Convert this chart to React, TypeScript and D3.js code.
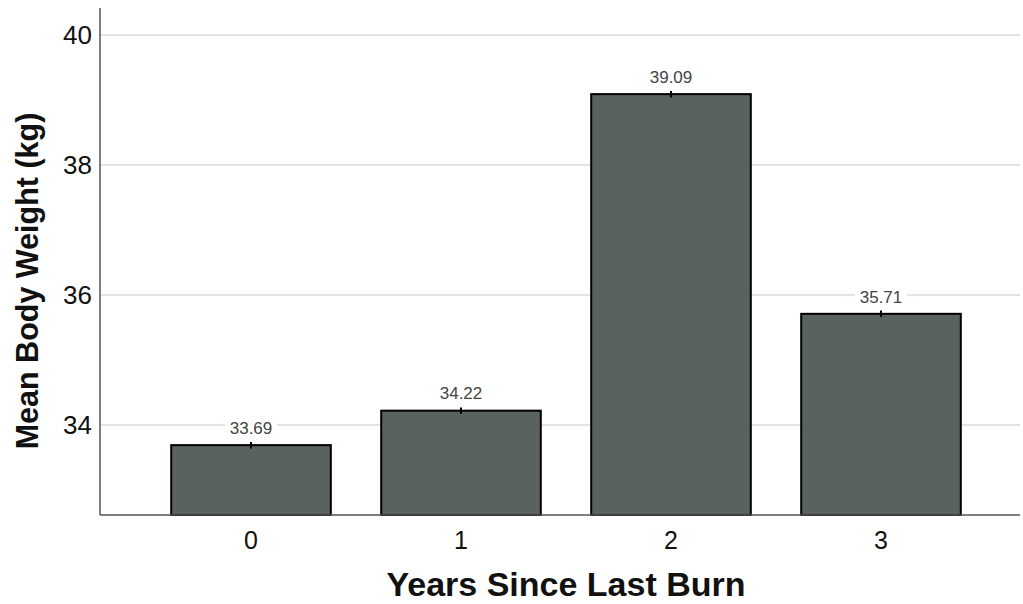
import React from "react";
import * as d3 from "d3";

const categories = ["0", "1", "2", "3"];
const means = [33.69, 34.22, 39.09, 35.71];
const errors = [0.05, 0.05, 0.05, 0.05];
const yTicks = [34, 36, 38, 40];

const W = 1023;
const H = 604;

export default function App() {
  const y = d3.scaleLinear().domain([32.615, 40.415]).range([515, 8]);
  const x = d3
    .scaleBand<string>()
    .domain(categories)
    .range([146, 986])
    .paddingInner(0.24)
    .paddingOuter(0.12);
  const font = "'Liberation Sans', Arial, sans-serif";
  return (
    <svg
      width={W}
      height={H}
      style={{ position: "absolute", left: 0, top: 0, background: "#fff" }}
      fontFamily={font}
    >
      {yTicks.map((t) => (
        <g key={t}>
          <line x1={100} x2={1020} y1={y(t)} y2={y(t)} stroke="#c8c8c8" strokeWidth={1.2} />
          <text x={92} y={y(t)} dy="0.35em" textAnchor="end" fontSize={26} fill="#111">
            {t}
          </text>
        </g>
      ))}
      {categories.map((c, i) => {
        const x0 = x(c)!;
        const bw = x.bandwidth();
        const cx = x0 + bw / 2;
        const top = y(means[i]);
        const label = means[i].toFixed(2);
        const lw = label.length * 9.2 + 6;
        const ly = y(means[i] + errors[i]) - 14;
        return (
          <g key={c}>
            <rect
              x={x0}
              y={top}
              width={bw}
              height={515 - top}
              fill="#59625c"
              stroke="#000"
              strokeWidth={2}
            />
            <line
              x1={cx}
              x2={cx}
              y1={y(means[i] + errors[i])}
              y2={y(means[i] - errors[i])}
              stroke="#000"
              strokeWidth={2}
            />
            <rect x={cx - lw / 2} y={ly - 10} width={lw} height={20} fill="#fff" />
            <text x={cx} y={ly} dy="0.35em" textAnchor="middle" fontSize={17} fill="#444">
              {label}
            </text>
            <text x={cx} y={540} dy="0.35em" textAnchor="middle" fontSize={25} fill="#111">
              {c}
            </text>
          </g>
        );
      })}
      <line x1={100} x2={100} y1={8} y2={515} stroke="#555" strokeWidth={1.5} />
      <line x1={100} x2={1020} y1={515} y2={515} stroke="#555" strokeWidth={1.5} />
      <text
        x={566}
        y={596}
        textAnchor="middle"
        fontSize={34}
        fontWeight="bold"
        fill="#111"
      >
        Years Since Last Burn
      </text>
      <text
        transform={`translate(27,281) rotate(-90)`}
        dy="0.35em"
        textAnchor="middle"
        fontSize={30.5}
        fontWeight="bold"
        fill="#111"
      >
        Mean Body Weight (kg)
      </text>
    </svg>
  );
}
